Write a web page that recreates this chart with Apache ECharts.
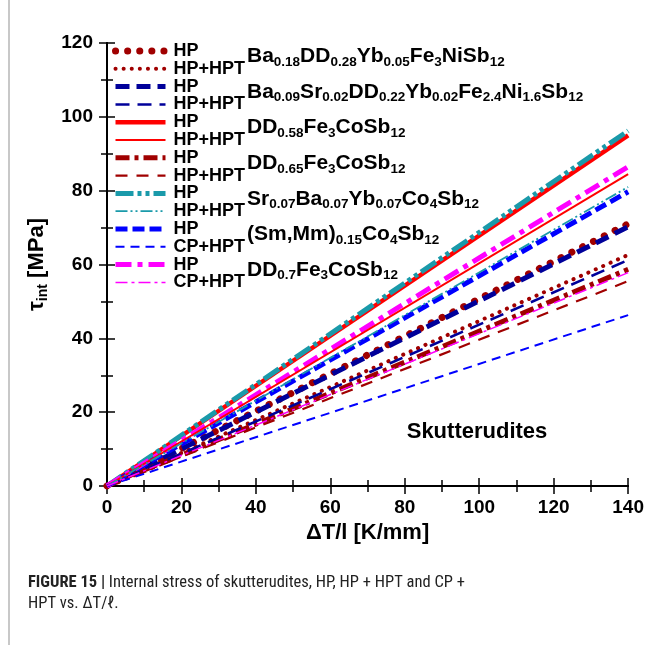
<!DOCTYPE html>
<html>
<head>
<meta charset="utf-8">
<script src="https://cdn.jsdelivr.net/npm/echarts@6/dist/echarts.min.js"></script>
<style>
  html, body { margin: 0; padding: 0; background: #ffffff; }
  #chart { width: 647px; height: 645px; }
</style>
</head>
<body>
<div id="chart"></div>
<script>
// x values (K/mm) for every line: origin and right end of the axis
var xPoints = [0, 140];

// legend labels, one per series (two per sample)
var seriesLabels = ['HP', 'HP+HPT', 'HP', 'HP+HPT', 'HP', 'HP+HPT', 'HP', 'HP+HPT',
  'HP', 'HP+HPT', 'HP', 'CP+HPT', 'HP', 'CP+HPT'];

// tau_int [MPa] at xPoints
var tauBaDDYb = [0, 71.0];        // HP
var tauBaDDYbHPT = [0, 62.6];     // HP+HPT
var tauBaSrDD = [0, 70.2];        // HP
var tauBaSrDDHPT = [0, 61.2];     // HP+HPT
var tauDD58 = [0, 95.0];          // HP
var tauDD58HPT = [0, 84.5];       // HP+HPT
var tauDD65 = [0, 58.7];          // HP
var tauDD65HPT = [0, 55.5];       // HP+HPT
var tauSrBaYb = [0, 96.2];        // HP
var tauSrBaYbHPT = [0, 81.0];     // HP+HPT
var tauSmMm = [0, 79.7];          // HP
var tauSmMmHPT = [0, 46.3];       // CP+HPT
var tauDD7 = [0, 86.5];           // HP
var tauDD7HPT = [0, 57.8];        // CP+HPT

var allTau = [tauBaDDYb, tauBaDDYbHPT, tauBaSrDD, tauBaSrDDHPT, tauDD58, tauDD58HPT,
  tauDD65, tauDD65HPT, tauSrBaYb, tauSrBaYbHPT, tauSmMm, tauSmMmHPT, tauDD7, tauDD7HPT];

// compositions, rich text with subscripts
var formulas = [
  '{m|Ba}{s|0.18}{m|DD}{s|0.28}{m|Yb}{s|0.05}{m|Fe}{s|3}{m|NiSb}{s|12}',
  '{m|Ba}{s|0.09}{m|Sr}{s|0.02}{m|DD}{s|0.22}{m|Yb}{s|0.02}{m|Fe}{s|2.4}{m|Ni}{s|1.6}{m|Sb}{s|12}',
  '{m|DD}{s|0.58}{m|Fe}{s|3}{m|CoSb}{s|12}',
  '{m|DD}{s|0.65}{m|Fe}{s|3}{m|CoSb}{s|12}',
  '{m|Sr}{s|0.07}{m|Ba}{s|0.07}{m|Yb}{s|0.07}{m|Co}{s|4}{m|Sb}{s|12}',
  '{m|(Sm,Mm)}{s|0.15}{m|Co}{s|4}{m|Sb}{s|12}',
  '{m|DD}{s|0.7}{m|Fe}{s|3}{m|CoSb}{s|12}'
];

var darkRed = '#a00000';
var navy = '#00009a';
var red = '#ff0000';
var teal = '#1a9aaa';
var blue = '#0000ff';
var magenta = '#ff00ff';

var styles = [
  { color: darkRed, width: 7, type: [0.1, 12], cap: 'round' },
  { color: darkRed, width: 4, type: [0.1, 8], cap: 'round' },
  { color: navy, width: 5, type: [14, 7] },
  { color: navy, width: 2.5, type: [14, 8] },
  { color: red, width: 4.5, type: 'solid' },
  { color: red, width: 2, type: 'solid' },
  { color: darkRed, width: 5, type: [14, 5, 4, 5] },
  { color: darkRed, width: 2.2, type: [12, 9] },
  { color: teal, width: 5, type: [18, 4, 4, 4, 4, 4] },
  { color: teal, width: 1.8, type: [12, 3, 2, 3, 2, 3] },
  { color: blue, width: 5, type: [12, 5] },
  { color: blue, width: 2, type: [9, 6] },
  { color: magenta, width: 5, type: [16, 6, 5, 6] },
  { color: magenta, width: 1.5, type: [12, 4, 3, 4] }
];

var font = "'Liberation Sans', Arial, Helvetica, sans-serif";
var narrow = "'Liberation Sans Narrow', 'Roboto Condensed', 'Liberation Sans', sans-serif";
var chart = echarts.init(document.getElementById('chart'));

var series = [];
var legendNames = [];
for (var i = 0; i < allTau.length; i++) {
  var name = seriesLabels[i] + '_' + i;
  legendNames.push(name);
  var pts = [];
  for (var j = 0; j < xPoints.length; j++) pts.push([xPoints[j], allTau[i][j]]);
  var st = styles[i];
  series.push({
    name: name,
    type: 'line',
    data: pts,
    symbol: 'none',
    color: st.color,
    lineStyle: { color: st.color, width: st.width, type: st.type, cap: st.cap || 'butt' },
    z: st.width > 3 ? 2 : 3,
    animation: false
  });
}

// formula labels sit between their two legend rows
var legendTop = 37;
var pairH = 35.6;
var graphics = [
  { type: 'rect', shape: { x: 8, y: 0, width: 2, height: 645 }, style: { fill: '#c8c8c8' } }
];
for (var k = 0; k < formulas.length; k++) {
  graphics.push({
    type: 'text',
    x: 247,
    y: legendTop + 19.5 + pairH * k,
    style: {
      text: formulas[k],
      verticalAlign: 'middle',
      rich: {
        m: { fontSize: 21, fontWeight: 'bold', fontFamily: font, fill: '#000', lineHeight: 25 },
        s: { fontSize: 13.5, fontWeight: 'bold', fontFamily: font, fill: '#000', lineHeight: 13, verticalAlign: 'bottom' }
      }
    }
  });
}
graphics.push({
  type: 'text', x: 477, y: 432,
  style: { text: 'Skutterudites', align: 'center', verticalAlign: 'middle',
    fontSize: 22, fontWeight: 'bold', fontFamily: font, fill: '#000' }
});
graphics.push({
  type: 'text', x: 28, y: 572,
  style: {
    text: '{b|FIGURE 15 |}{n| Internal stress of skutterudites, HP, HP + HPT and CP +}\n{n|HPT vs. ΔT/ℓ.}',
    verticalAlign: 'top',
    rich: {
      b: { fontSize: 16.5, fontWeight: 'bold', fontFamily: narrow, fill: '#222', lineHeight: 21 },
      n: { fontSize: 16.5, fontFamily: narrow, fill: '#222', lineHeight: 21 }
    }
  }
});

var tickAxis = {
  axisLine: { show: true, lineStyle: { color: '#000', width: 2 } },
  axisTick: { show: true, inside: true, length: 8, lineStyle: { color: '#000', width: 1.5 } },
  minorTick: { show: true, splitNumber: 2, length: 6, lineStyle: { color: '#000', width: 1.5 } },
  splitLine: { show: false },
  minorSplitLine: { show: false }
};

var labelStyle = { color: '#000', fontSize: 19, fontWeight: 'bold', fontFamily: font };

var option = {
  backgroundColor: '#ffffff',
  animation: false,
  grid: { left: 107, right: 15, top: 43, bottom: 159 },
  legend: {
    data: legendNames,
    orient: 'vertical',
    left: 107,
    top: legendTop,
    itemWidth: 50,
    itemHeight: 14,
    itemGap: -0.2,
    selectedMode: false,
    itemStyle: { opacity: 0 },
    lineStyle: { width: 'inherit', type: 'inherit', cap: 'inherit' },
    formatter: function (n) { return n.split('_')[0]; },
    textStyle: { color: '#000', fontSize: 18, fontWeight: 'bold', fontFamily: font, lineHeight: 17, padding: [0, 0, 0, 3] }
  },
  xAxis: [
    Object.assign({
      type: 'value', position: 'bottom', min: 0, max: 140, interval: 20,
      name: 'ΔT/l [K/mm]', nameLocation: 'middle', nameGap: 24,
      nameTextStyle: { color: '#000', fontSize: 22, fontWeight: 'bold', fontFamily: font, verticalAlign: 'top' },
      axisLabel: Object.assign({ margin: 12, showMaxLabel: true }, labelStyle)
    }, tickAxis),
    Object.assign({
      type: 'value', position: 'top', min: 0, max: 140, interval: 20,
      axisLabel: { show: false }
    }, tickAxis)
  ],
  yAxis: [
    Object.assign({
      type: 'value', position: 'left', min: 0, max: 120, interval: 20,
      name: '{t|τ}{s|int}{t| [MPa]}', nameLocation: 'middle', nameGap: 52, nameRotate: 90,
      nameTextStyle: {
        rich: {
          t: { fontSize: 22, fontWeight: 'bold', fontFamily: font, color: '#000', lineHeight: 26 },
          s: { fontSize: 14, fontWeight: 'bold', fontFamily: font, color: '#000', lineHeight: 14, verticalAlign: 'bottom' }
        }
      },
      axisLabel: Object.assign({ margin: 14 }, labelStyle)
    }, tickAxis),
    Object.assign({
      type: 'value', position: 'right', min: 0, max: 120, interval: 20,
      axisLabel: { show: false }
    }, tickAxis)
  ],
  graphic: graphics,
  series: series
};

chart.setOption(option);
</script>
</body>
</html>
